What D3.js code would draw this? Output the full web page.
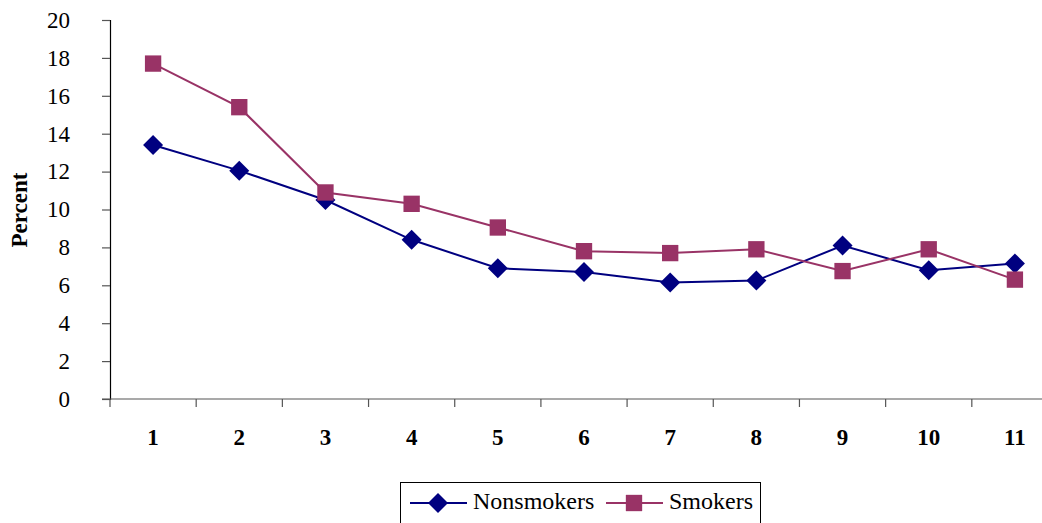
<!DOCTYPE html>
<html>
<head>
<meta charset="utf-8">
<script src="https://cdn.jsdelivr.net/npm/d3@7"></script>
<style>
  body { margin: 0; background: #fff; }
</style>
</head>
<body>
<div id="content"></div>
<script>
const categories = ["1", "2", "3", "4", "5", "6", "7", "8", "9", "10", "11"]
const nonsmokers = [13.4, 12.05, 10.5, 8.4, 6.9, 6.7, 6.15, 6.25, 8.1, 6.8, 7.15]
const smokers = [17.7, 15.4, 10.9, 10.3, 9.05, 7.8, 7.7, 7.9, 6.75, 7.9, 6.3]
const yTicks = [0, 2, 4, 6, 8, 10, 12, 14, 16, 18, 20]

const font = "Liberation Serif"

const series = [
    {name: "Nonsmokers", values: nonsmokers, color: "#000080", symbol: d3.symbolDiamond2, size: 255},
    {name: "Smokers", values: smokers, color: "#993366", symbol: d3.symbolSquare2, size: 340},
]

const outerWidth = 1042
const outerHeight = 523
const margin = {top: 20, left: 110}
const plotRight = 1058
const plotBottom = 399

const svg = d3.select("#content").append("svg")
    .attr("width", outerWidth)
    .attr("height", outerHeight)

// scales
const xScale = d3.scaleBand()
    .domain(categories)
    .range([margin.left, plotRight])
const yScale = d3.scaleLinear()
    .domain([0, 20])
    .range([plotBottom, margin.top])

// y axis
const yAxis = d3.axisLeft(yScale)
    .tickValues(yTicks)
    .tickSize(8)
    .tickPadding(32)
const yG = svg.append("g")
    .attr("transform", `translate(${margin.left}, 0)`)
    .call(yAxis)
yG.select(".domain").attr("stroke", "#000").attr("stroke-width", 1.2)
yG.selectAll(".tick line").attr("stroke", "#555").attr("stroke-width", 1.2)
yG.selectAll(".tick text")
    .style("font-family", font)
    .style("font-size", "23px")
    .style("fill", "#000")

// x axis, ticks at band boundaries
const xG = svg.append("g")
    .attr("transform", `translate(0, ${plotBottom})`)
xG.append("line")
    .attr("x1", margin.left - 8)
    .attr("x2", plotRight)
    .attr("stroke", "#555")
    .attr("stroke-width", 1.2)
xG.selectAll(".xtick")
    .data(categories)
    .enter().append("line")
    .attr("class", "xtick")
    .attr("x1", d => xScale(d))
    .attr("x2", d => xScale(d))
    .attr("y1", 0)
    .attr("y2", 8)
    .attr("stroke", "#555")
    .attr("stroke-width", 1.2)
xG.selectAll(".xlabel")
    .data(categories)
    .enter().append("text")
    .attr("class", "xlabel")
    .attr("x", d => xScale(d) + xScale.bandwidth() / 2)
    .attr("y", 46)
    .style("text-anchor", "middle")
    .style("font-family", font)
    .style("font-size", "23px")
    .style("font-weight", "700")
    .text(d => d)

// y label
svg.append("text")
    .attr("transform", "rotate(-90)")
    .attr("x", -210)
    .attr("y", 27)
    .style("text-anchor", "middle")
    .style("font-family", font)
    .style("font-size", "23px")
    .style("font-weight", "700")
    .text("Percent")

// lines and markers
const line = d3.line()
    .x((d, i) => xScale(categories[i]) + xScale.bandwidth() / 2)
    .y(d => yScale(d))

series.forEach(s => {
    svg.append("path")
        .datum(s.values)
        .attr("fill", "none")
        .attr("stroke", s.color)
        .attr("stroke-width", 2)
        .attr("d", line)

    svg.selectAll(null)
        .data(s.values)
        .enter().append("path")
        .attr("transform", (d, i) => `translate(${xScale(categories[i]) + xScale.bandwidth() / 2}, ${yScale(d)})`)
        .attr("d", d3.symbol().type(s.symbol).size(s.size))
        .attr("fill", s.color)
})

// legend
const legend = svg.append("g")
legend.append("rect")
    .attr("x", 400.5)
    .attr("y", 482.5)
    .attr("width", 360)
    .attr("height", 50)
    .attr("fill", "#fff")
    .attr("stroke", "#000")
    .attr("stroke-width", 1)

const legendX = [410, 606]
series.forEach((s, i) => {
    const g = legend.append("g").attr("transform", `translate(${legendX[i]}, 503)`)
    g.append("line")
        .attr("x1", 0)
        .attr("x2", 57)
        .attr("stroke", s.color)
        .attr("stroke-width", 2)
    g.append("path")
        .attr("transform", "translate(28, 0)")
        .attr("d", d3.symbol().type(s.symbol).size(s.size))
        .attr("fill", s.color)
    g.append("text")
        .attr("x", 63)
        .attr("y", 6)
        .style("font-family", font)
        .style("font-size", "24px")
        .text(s.name)
})
</script>
</body>
</html>
